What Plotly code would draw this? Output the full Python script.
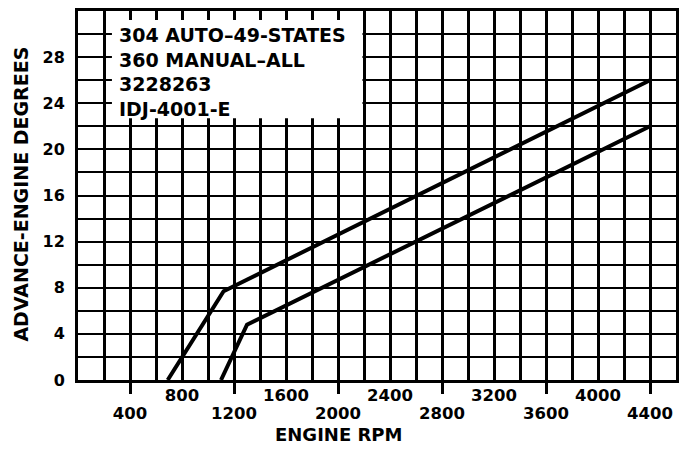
import plotly.graph_objects as go

# Advance curve data (engine RPM vs. advance in engine degrees)
rpm_upper = [690, 1120, 4400]
adv_upper = [0, 7.7, 26]
rpm_lower = [1100, 1300, 4400]
adv_lower = [0, 4.8, 22]

# Axis tick labels, staggered in two rows
x_ticks_high = [800, 1600, 2400, 3200, 4000]
x_ticks_low = [400, 1200, 2000, 2800, 3600, 4400]
y_ticks = [0, 4, 8, 12, 16, 20, 24, 28]

legend_lines = ["304 AUTO–49-STATES", "360 MANUAL–ALL", "3228263", "IDJ-4001-E"]

FONT = "DejaVu Sans"
X_RANGE = [0, 4600]
Y_RANGE = [0, 32]

fig = go.Figure()
for xs, ys in ((rpm_upper, adv_upper), (rpm_lower, adv_lower)):
    fig.add_trace(go.Scatter(x=xs, y=ys, mode="lines",
                             line=dict(color="black", width=4),
                             showlegend=False, hoverinfo="skip"))
# empty traces so the overlay label axes are built
for ax in ("x2", "x3"):
    fig.add_trace(go.Scatter(x=[], y=[], xaxis=ax, showlegend=False))

xtickfont = dict(family=FONT, size=16.5, color="black", weight="bold")
ytickfont = dict(family=FONT, size=16, color="black", weight="bold")

fig.update_layout(
    width=687, height=449,
    margin=dict(l=78, r=10, t=8, b=69),
    paper_bgcolor="white", plot_bgcolor="white",
    xaxis=dict(range=X_RANGE, tickmode="linear", tick0=0, dtick=400,
               showticklabels=False, ticks="",
               showgrid=True, gridcolor="black", gridwidth=3,
               minor=dict(tickmode="linear", tick0=0, dtick=200,
                          showgrid=True, gridcolor="black", gridwidth=2.5),
               showline=True, linecolor="black", linewidth=3, mirror=True,
               zeroline=False, fixedrange=True),
    xaxis2=dict(range=X_RANGE, overlaying="x", anchor="y", side="bottom",
                tickmode="array", tickvals=x_ticks_high,
                ticktext=[str(v) for v in x_ticks_high],
                ticks="", showgrid=False, zeroline=False, showline=False,
                tickfont=xtickfont, ticklabelstandoff=3),
    xaxis3=dict(range=X_RANGE, overlaying="x", anchor="y", side="bottom",
                tickmode="array", tickvals=x_ticks_low,
                ticktext=[str(v) for v in x_ticks_low],
                ticks="outside", ticklen=13, tickwidth=2.5, tickcolor="black",
                showgrid=False, zeroline=False, showline=False,
                tickfont=xtickfont, ticklabelstandoff=5),
    yaxis=dict(range=Y_RANGE, tickmode="array", tickvals=y_ticks,
               ticktext=[str(v) for v in y_ticks], ticks="",
               showgrid=True, gridcolor="black", gridwidth=2,
               minor=dict(tickmode="linear", tick0=0, dtick=2,
                          showgrid=True, gridcolor="black", gridwidth=2),
               showline=True, linecolor="black", linewidth=3, mirror=True,
               zeroline=False, tickfont=ytickfont, ticklabelstandoff=7,
               fixedrange=True),
)

# white label panel over the grid, leaving short grid stubs at its edges
fig.add_shape(type="rect", xref="x", yref="y",
              x0=261, x1=2188, y0=22.69, y1=31.23,
              fillcolor="white", line=dict(width=0), layer="above")

fig.add_annotation(xref="x", yref="y", x=300, y=31.05,
                   xanchor="left", yanchor="top", align="left",
                   text="<br>".join(legend_lines), showarrow=False,
                   font=dict(family=FONT, size=19, color="black", weight="bold"))

fig.add_annotation(xref="x", yref="paper", x=2000, y=0, yshift=-54,
                   xanchor="center", yanchor="middle", text="ENGINE RPM",
                   showarrow=False,
                   font=dict(family=FONT, size=18, color="black", weight="bold"))

fig.add_annotation(xref="paper", yref="paper", x=-0.095, y=0.503,
                   xanchor="center", yanchor="middle", textangle=-90,
                   text="ADVANCE-ENGINE DEGREES", showarrow=False,
                   font=dict(family=FONT, size=19, color="black", weight="bold"))

fig.write_html("out.html")
